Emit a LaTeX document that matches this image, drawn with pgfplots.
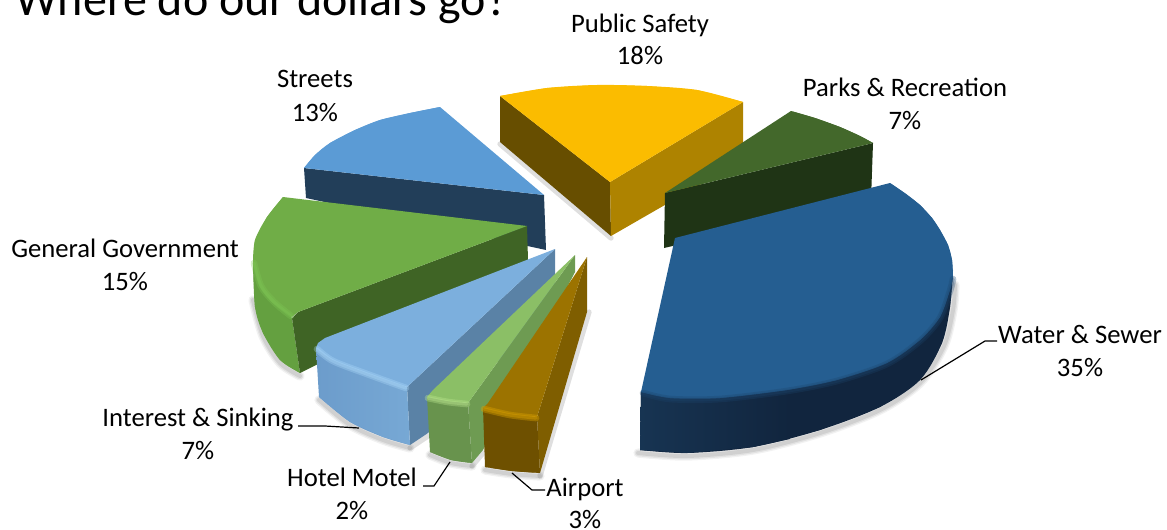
\documentclass[border=0pt]{standalone}
\usepackage{pgfplots}
\usepackage{fontspec}
\setmainfont{Carlito}
\pgfplotsset{compat=1.18}
\definecolor{ysafety}{HTML}{FBBC00}
\definecolor{ysafetyL}{HTML}{674E00}
\definecolor{ysafetyR}{HTML}{AE8300}
\definecolor{gparks}{HTML}{43682B}
\definecolor{gparksW}{HTML}{1F3415}
\definecolor{bwater}{HTML}{255E91}
\definecolor{bwaterS}{HTML}{11253E}
\definecolor{bwaterL}{HTML}{173452}
\definecolor{bstreet}{HTML}{5B9BD5}
\definecolor{bstreetW}{HTML}{223E59}
\definecolor{ggov}{HTML}{70AD47}
\definecolor{ggovW}{HTML}{3F6425}
\definecolor{ggovS}{HTML}{64A040}
\definecolor{ggovB}{HTML}{7FC956}
\definecolor{binter}{HTML}{7CAFDD}
\definecolor{binterW}{HTML}{5A82A6}
\definecolor{binterF}{HTML}{6C9CCB}
\definecolor{binterB}{HTML}{B4E0FF}
\definecolor{ghotel}{HTML}{8BBF66}
\definecolor{ghotelW}{HTML}{6E9B52}
\definecolor{ghotelF}{HTML}{68934D}
\definecolor{ghotelB}{HTML}{BCE890}
\definecolor{ohair}{HTML}{9C7300}
\definecolor{ohairW}{HTML}{7F5E00}
\definecolor{ohairS}{HTML}{6E5000}
\definecolor{ohairB}{HTML}{D9A000}
\tikzset{lab/.style={font=\fontsize{20}{22}\selectfont,text=black,anchor=base,inner sep=0pt}}
\pgfplotsset{
  face/.style={fill=#1,draw=none,mark=none,forget plot},
  arc/.style={fill=#1,draw=none,mark=none,forget plot,smooth},
  soft/.style n args={2}{draw=#1,line width=#2,no markers,forget plot,fill=none,line cap=round,line join=round,smooth},
  leader/.style={draw=black,line width=0.9pt,no markers,forget plot}
}
% a blurred stroke built from three widths
\newcommand{\shadowline}[1]{%
  \addplot[soft={gray}{7pt},opacity=.10] coordinates {#1};
  \addplot[soft={gray}{5pt},opacity=.14] coordinates {#1};
  \addplot[soft={gray}{3pt},opacity=.18] coordinates {#1};
}
% a bevel highlight built from two widths
\newcommand{\bevel}[3]{%
  \addplot[soft={#1}{5pt},opacity=#2] coordinates {#3};
  \addplot[soft={#1}{2.5pt},opacity=#2] coordinates {#3};
}
\begin{document}
\begin{tikzpicture}[x=1pt,y=1pt]
\useasboundingbox (0,0) rectangle (875.25pt,396.75pt);
\clip (0,0) rectangle (875.25pt,396.75pt);
\begin{axis}[
  at={(0,0)},anchor=south west,
  scale only axis,width=875.25pt,height=396.75pt,
  xmin=0,xmax=1167,ymin=0,ymax=529,y dir=reverse,
  hide axis,clip=false]

% soft ground shadows under the slices
\shadowline{(638,453)(687,456)(753,450)(820,433)(880,410)(920,383)(944,346)(953,310)(955,285)}
\shadowline{(253,300)(263,336)(280,363)(300,376)}
\shadowline{(319,400)(350,425)(383,440)(410,448)}
\shadowline{(430,455)(451,463)(472,466)}
\shadowline{(485,470)(512,474)(540,476)}
\addplot[soft={gray}{4pt},opacity=.25] coordinates {(428,436)(410,448)};
\addplot[soft={gray}{4pt},opacity=.25] coordinates {(472,466)(483,453)};
\addplot[soft={gray}{4pt},opacity=.25] coordinates {(540,476)(589,312)};
\addplot[soft={gray}{4pt},opacity=.25] coordinates {(500,144)(611,238)};

% Public Safety
\addplot[face=ysafetyL] coordinates {(610,182)(500,96)(500,142)(611,236)};
\addplot[face=ysafetyR] coordinates {(610,182)(743,102)(743,160)(611,236)};
\addplot[face=ysafety] coordinates {(610,182)(743,102)(697,90)(647,86)(597,85)(547,88)(500,96)};
\addplot[arc=ysafety] coordinates {(743,102)(697,90)(647,86)(597,85)(547,88)(500,96)};

% Parks & Recreation
\addplot[face=gparksW] coordinates {(665,193)(873,143)(871,200)(664,248)};
\addplot[face=gparks] coordinates {(665,193)(791,111)(815,118)(840,127)(860,136)(873,143)};
\addplot[arc=gparks] coordinates {(791,111)(815,118)(840,127)(860,136)(873,143)};

% Water & Sewer
\addplot[face=bwaterS] coordinates {(641,392)(640,450)(687,453)(753,447)(820,430)(880,407)(920,380)(942,343)(950,307)(953,270)};
\addplot[arc=bwaterS] coordinates {(640,450)(687,453)(753,447)(820,430)(880,407)(920,380)(942,343)(950,307)(953,270)};
\addplot[left color=bwaterL,right color=bwaterS,draw=none,mark=none,forget plot] coordinates {(641,392)(640,450)(687,453)(753,447)(790,439)(790,385)};
\addplot[face=bwater] coordinates {(675,238)(890,183)(906,194)(920,205)(932,218)(940,230)(948,245)(952,260)(953,277)(950,290)(940,317)(920,340)(887,363)(837,380)(787,390)(720,398)(670,398)(641,392)};
\addplot[arc=bwater] coordinates {(890,183)(906,194)(920,205)(932,218)(940,230)(948,245)(952,260)(953,277)};
\addplot[arc=bwater] coordinates {(953,277)(950,290)(940,317)(920,340)(887,363)(837,380)(787,390)(720,398)(670,398)(641,392)};
\bevel{bwater!55!bwaterS}{.3}{(643,393)(670,399)(720,399)(787,391)(837,381)(887,364)(920,341)(940,318)(950,291)(953,279)}

% Streets
\addplot[face=bstreetW] coordinates {(304,168)(544,195)(546,250)(306,198)};
\addplot[face=bstreet] coordinates {(304,168)(315,155)(330,143)(355,130)(380,120)(410,113)(440,107)(544,195)};
\addplot[arc=bstreet] coordinates {(304,168)(315,155)(330,143)(355,130)(380,120)(410,113)(440,107)};

% General Government
\addplot[face=ggovS] coordinates {(253,263)(255,307)(263,333)(280,360)(300,373)(292,318)};
\addplot[arc=ggovS] coordinates {(253,263)(255,307)(263,333)(280,360)(300,373)};
\addplot[face=ggovW] coordinates {(298,312)(527,226)(528,260)(300,373)(292,318)};
\addplot[face=ggov] coordinates {(527,226)(283,197)(267,217)(255,240)(253,263)(260,287)(273,303)(292,317)(298,312)};
\addplot[arc=ggov] coordinates {(283,197)(267,217)(255,240)(253,263)};
\addplot[arc=ggov] coordinates {(253,263)(260,287)(273,303)(292,317)};
\bevel{ggovB}{.3}{(254,263)(261,286)(274,302)(291,316)}

% Interest & Sinking
\addplot[face=binterW] coordinates {(555,249)(555,303)(428,433)(410,445)(407,387)};
\addplot[arc=binterF] coordinates {(319,397)(350,422)(383,437)(410,445)};
\addplot[left color=binterF,right color=binter!85!binterW,draw=none,mark=none,forget plot] coordinates {(316,348)(319,397)(350,422)(383,437)(410,445)(407,387)};
\addplot[face=binter] coordinates {(555,249)(325,338)(318,343)(316,348)(333,360)(367,373)(407,387)};
\addplot[arc=binter] coordinates {(316,348)(333,360)(367,373)(407,387)};
\bevel{binterB}{.3}{(317,349)(333,361)(367,374)(406,388)}

% Hotel Motel
\addplot[face=ghotelW] coordinates {(575,255)(575,272)(483,450)(472,463)(468,403)};
\addplot[face=ghotelF] coordinates {(427,397)(430,452)(451,460)(472,463)(468,403)};
\addplot[arc=ghotelF] coordinates {(430,452)(451,460)(472,463)};
\addplot[face=ghotel] coordinates {(575,255)(433,390)(427,397)(448,401)(468,403)};
\addplot[arc=ghotel] coordinates {(427,397)(448,401)(468,403)};
\bevel{ghotelB}{.35}{(428,398)(448,402)(467,404)}

% Airport
\addplot[face=ohairW] coordinates {(587,257)(587,312)(540,473)(537,417)};
\addplot[face=ohairS] coordinates {(483,408)(485,467)(512,471)(540,473)(537,417)};
\addplot[arc=ohairS] coordinates {(485,467)(512,471)(540,473)};
\addplot[face=ohair] coordinates {(587,257)(488,403)(483,408)(510,414)(537,417)};
\addplot[arc=ohair] coordinates {(483,408)(510,414)(537,417)};
\bevel{ohairB}{.4}{(484,409)(510,415)(536,418)}

% Leader lines
\addplot[leader] coordinates {(921,380)(985,341)(997,341)};
\addplot[leader] coordinates {(298,426)(325,426)(359,428)};
\addplot[leader] coordinates {(423,486)(434,486)(450,462)};
\addplot[leader] coordinates {(512,473)(532,490)(545,490)};

% Title and slice labels
\node[font=\fontsize{36}{40}\selectfont,anchor=base west,inner sep=0pt] at (axis cs:15,15) {Where do our dollars go?};
\node[lab] at (axis cs:640,32) {Public Safety};
\node[lab] at (axis cs:640,64) {18\%};
\node[lab] at (axis cs:905,96) {Parks \& Recreation};
\node[lab] at (axis cs:905,129) {7\%};
\node[lab] at (axis cs:315,87) {Streets};
\node[lab] at (axis cs:315,121) {13\%};
\node[lab] at (axis cs:125,257) {General Government};
\node[lab] at (axis cs:125,290) {15\%};
\node[lab] at (axis cs:1080,343) {Water \& Sewer};
\node[lab] at (axis cs:1080,376) {35\%};
\node[lab] at (axis cs:198,426) {Interest \& Sinking};
\node[lab] at (axis cs:198,459) {7\%};
\node[lab] at (axis cs:352,486) {Hotel Motel};
\node[lab] at (axis cs:352,519) {2\%};
\node[lab] at (axis cs:585,496) {Airport};
\node[lab] at (axis cs:585,528) {3\%};
\end{axis}
\end{tikzpicture}
\end{document}
